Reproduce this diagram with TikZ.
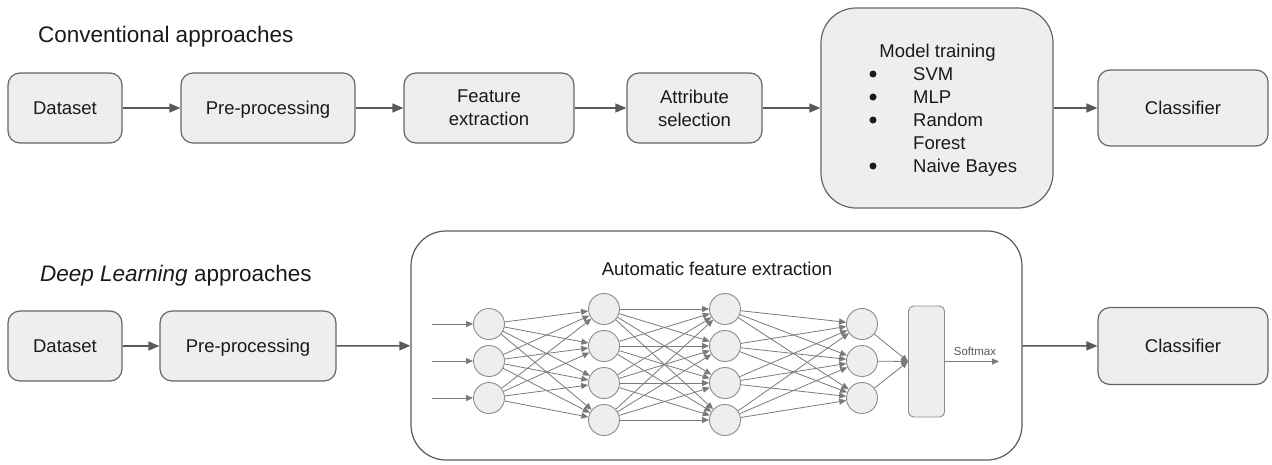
\documentclass[tikz,border=0pt]{standalone}
\usepackage{fontspec}
\setmainfont{Liberation Sans}
\usetikzlibrary{arrows.meta}
\definecolor{boxfill}{HTML}{EEEEEE}
\definecolor{boxline}{HTML}{666666}
\definecolor{arrowc}{HTML}{5A5A5A}
\definecolor{netline}{HTML}{7A7A7A}
\definecolor{cellline}{HTML}{8C8C8C}
\definecolor{txt}{HTML}{1A1A1A}

\begin{document}
\begin{tikzpicture}[x=1pt,y=-1pt,
  stage/.style={draw=boxline, fill=boxfill, line width=1.2pt, rounded corners=12pt,
    minimum height=70pt, align=center, inner sep=0pt, text=txt,
    font=\fontsize{18.5}{23}\selectfont},
  oneline/.style={text height=13.3pt, text depth=0pt},
  label/.style={text=txt, inner sep=0pt, font=\fontsize{18.5}{23}\selectfont},
  heading/.style={text=txt, inner sep=0pt, anchor=base west, font=\fontsize{22.5}{27}\selectfont},
  flow/.style={draw=arrowc, line width=1.4pt, -{Triangle[length=11pt,width=9pt]}},
  neuron/.style={circle, draw=cellline, fill=boxfill, line width=0.9pt, minimum size=31pt, inner sep=0pt},
  link/.style={draw=netline, line width=0.8pt, -{Triangle[length=7pt,width=6pt]}},
  dot/.style={circle, fill=txt, minimum size=7pt, inner sep=0pt},
]
\useasboundingbox (0,0) rectangle (1272,464);

% ---------- conventional pipeline ----------
\node[heading] (t1) at (38,42) {Conventional approaches};

\node[stage, oneline, minimum width=114pt] (d1) at (65,108) {Dataset};
\node[stage, oneline, minimum width=174pt] (p1) at (268,108) {Pre-processing};
\node[stage, minimum width=170pt] (f1) at (489,108) {Feature\\extraction};
\node[stage, minimum width=135pt] (s1) at (694.5,108) {Attribute\\selection};
\node[stage, minimum width=232pt, minimum height=200pt, rounded corners=35pt] (m1) at (937,108) {};
\node[stage, oneline, minimum width=170pt, minimum height=76pt] (c1) at (1183,108) {Classifier};

\node[label, anchor=base] (mt) at (937.5,57) {Model training};
\foreach \k/\yb/\t in {1/80/SVM, 2/103/MLP, 3/126/Random, 4/149/Forest, 5/172/Naive Bayes}
  \node[label, anchor=base west] (i\k) at (913,\yb) {\t};
\foreach \k/\yd in {1/74, 2/97, 3/120, 5/166}
  \node[dot] (b\k) at (873,\yd) {};

\draw[flow] (d1) -- (p1);
\draw[flow] (p1) -- (f1);
\draw[flow] (f1) -- (s1);
\draw[flow] (s1) -- (m1);
\draw[flow] (m1) -- (c1);

% ---------- deep learning pipeline ----------
\node[heading] (t2) at (40,281) {\textit{Deep Learning} approaches};

\node[stage, oneline, minimum width=114pt] (d2) at (65,346) {Dataset};
\node[stage, oneline, minimum width=176pt] (p2) at (248,346) {Pre-processing};
\node[stage, fill=white, draw=arrowc, minimum width=611pt, minimum height=229pt, rounded corners=35pt] (nn) at (716.5,345.5) {};
\node[stage, oneline, minimum width=170pt, minimum height=77pt] (c2) at (1183,346) {Classifier};

\node[label, anchor=base] (ft) at (717,275) {Automatic feature extraction};

\draw[flow] (d2) -- (p2);
\draw[flow] (p2) -- (nn);
\draw[flow] (nn) -- (c2);

% network layers
\foreach \i/\y in {1/324, 2/361, 3/398} {
  \node[neuron] (u\i) at (489,\y) {};
  \node[neuron] (z\i) at (862,\y) {};
  \coordinate (in\i) at (432,\y);
}
\foreach \i/\y in {1/309, 2/346, 3/383, 4/420} {
  \node[neuron] (v\i) at (604,\y) {};
  \node[neuron] (w\i) at (725,\y) {};
}
\node[draw=cellline, fill=boxfill, line width=0.9pt, rounded corners=5pt,
  minimum width=36pt, minimum height=111pt, inner sep=0pt] (sm) at (926.5,361.5) {};

\foreach \i in {1,2,3} \draw[link] (in\i) -- (u\i);
\foreach \i in {1,2,3} \foreach \j in {1,2,3,4} \draw[link] (u\i) -- (v\j);
\foreach \i in {1,2,3,4} \foreach \j in {1,2,3,4} \draw[link] (v\i) -- (w\j);
\foreach \i in {1,2,3,4} \foreach \j in {1,2,3} \draw[link] (w\i) -- (z\j);
\foreach \i in {1,2,3} \draw[link] (z\i) -- (sm.west);

\coordinate (out) at (999,361.5);
\draw[link] (sm.east) -- (out);
\node[anchor=base, inner sep=0pt, text=arrowc, font=\fontsize{11.5}{13}\selectfont] (smx) at (975,355) {Softmax};
\end{tikzpicture}
\end{document}
